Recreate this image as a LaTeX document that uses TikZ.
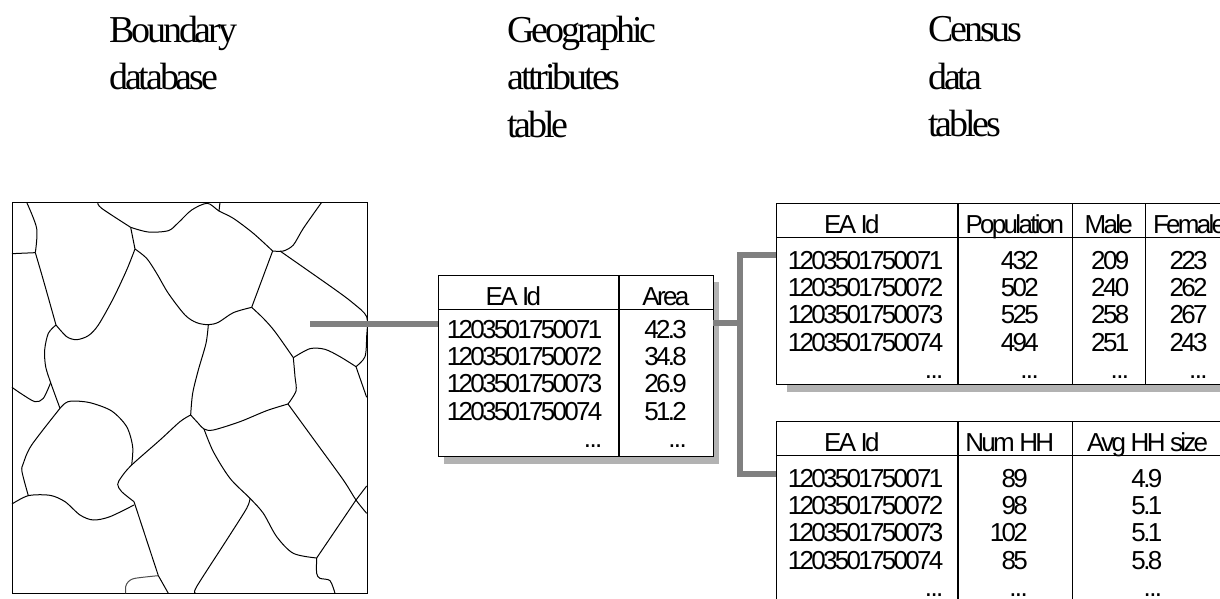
\documentclass[tikz,border=0pt]{standalone}
\usepackage{fontspec}
\usepackage{xcolor}
\setmainfont{Liberation Serif}
\newfontfamily\tablefont[LetterSpace=-10.4]{Liberation Sans}
\newfontfamily\titlefont[LetterSpace=-8.2]{Liberation Serif}
\usetikzlibrary{positioning,shadows}
\definecolor{linkgray}{HTML}{808080}
\definecolor{shadowgray}{HTML}{B2B2B2}
% first rule = room above the first row, then right padding, then the four rows
\newcommand{\tablerows}[6]{\rule{0pt}{#1pt}#3\kern#2pt\\#4\kern#2pt\\#5\kern#2pt\\#6\kern#2pt\\\rule[\dimexpr#1pt-38pt\relax]{0pt}{\dimexpr38pt-#1pt\relax}.\kern-1.6pt.\kern-1.6pt.\kern#2pt}

\begin{document}
\begin{tikzpicture}[x=1pt,y=-1pt,
box/.style={draw,rectangle,outer sep=0pt,inner ysep=0pt,inner xsep=0pt,font=\tablefont\fontsize{26}{27.3}\selectfont},
head/.style={box,minimum width=#1,text height=30.3pt,text depth=3pt},
body/.style={box,text width=#1,align=right},
title/.style={anchor=north west,inner sep=0pt,align=left,font=\titlefont\fontsize{38}{47.5}\selectfont},
mapline/.style={draw=black,line width=1pt},
link/.style={draw=linkgray,line width=6pt},
table/.style={anchor=north west,inner sep=0pt,fill=white,drop shadow={shadow xshift=#1,shadow yshift=-7pt,opacity=1,fill=shadowgray}}]
\useasboundingbox (0,0) rectangle (1220,599);

\node (boundtitle) [title] at (109,15.5) {Boundary\\database};
\node (geotitle) [title] at (507,15.5) {Geographic\\attributes\\table};
\node (censustitle) [title] at (928,16.5) {Census\\data\\tables};

% the map
\node (mapframe) [draw,line width=1pt,inner sep=0pt,outer sep=0pt,minimum width=355pt,minimum height=391pt,anchor=north west] at (12,202) {};
\begin{scope}[shift={(0,190)},x=.33333pt,y=-.33333pt]
\draw[mapline] plot[smooth] coordinates {(80,37) (110,115) (106,188)};
\draw[mapline] (36,191) -- (106,188);
\draw[mapline] plot[smooth] coordinates {(106,188) (130,270) (168,405)};
\draw[mapline] plot[smooth] coordinates {(168,405) (200,440) (230,449) (265,437) (295,405) (340,325) (380,240) (405,177)};
\draw[mapline] plot[smooth] coordinates {(293,37) (305,55) (392,112)};
\draw[mapline] (392,112) -- (405,177);
\draw[mapline] plot[smooth] coordinates {(392,112) (445,126) (505,122) (535,98) (575,60) (622,40) (657,63) (700,85) (760,130) (818,183)};
\draw[mapline] (660,37) -- (657,63);
\draw[mapline] plot[smooth] coordinates {(818,183) (850,183) (880,165) (910,115) (965,37)};
\draw[mapline] plot[smooth] coordinates {(840,183) (1000,295) (1060,340) (1100,380) (1100,440) (1095,500) (1068,530)};
\draw[mapline] (818,183) -- (755,352);
\draw[mapline] plot[smooth] coordinates {(405,177) (440,205) (470,250) (505,310) (555,375) (590,398) (625,404) (655,397) (700,368) (755,352)};
\draw[mapline] plot[smooth] coordinates {(755,352) (790,385) (825,425) (880,503)};
\draw[mapline] plot[smooth] coordinates {(880,503) (930,476) (975,478) (1020,500) (1068,530)};
\draw[mapline] (1068,530) -- (1100,622);
\draw[mapline] plot[smooth] coordinates {(880,503) (885,560) (888,603) (864,642)};
\draw[mapline] plot[smooth] coordinates {(864,642) (800,662) (720,695) (640,720) (612,717) (595,700) (572,675)};
\draw[mapline] plot[smooth] coordinates {(625,404) (618,460) (595,540) (578,610) (572,675)};
\draw[mapline] plot[smooth] coordinates {(572,675) (540,695) (480,750) (395,825) (365,860) (353,883) (365,905) (402,935)};
\draw[mapline] plot[smooth] coordinates {(395,825) (398,770) (380,710) (335,663) (270,638) (215,633) (195,640) (180,655)};
\draw[mapline] plot[smooth] coordinates {(168,405) (145,430) (134,480) (137,530) (152,578) (180,655)};
\draw[mapline] plot[smooth] coordinates {(36,592) (65,612) (105,635) (130,625) (152,578)};
\draw[mapline] plot[smooth] coordinates {(180,655) (95,765) (70,820) (66,845) (85,917)};
\draw[mapline] plot[smooth] coordinates {(36,942) (85,917) (150,916) (195,935) (240,975) (280,990) (330,980) (402,945)};
\draw[mapline] (402,935) -- (475,1157) -- (505,1210);
\draw[mapline,draw=black!70] plot[smooth] coordinates {(475,1157) (405,1165) (385,1175) (377,1190) (377,1210)};
\draw[mapline] plot[smooth] coordinates {(612,717) (640,785) (690,865) (750,925) (790,970) (830,1040) (880,1090) (950,1104)};
\draw[mapline] plot[smooth] coordinates {(750,925) (740,955) (680,1050) (590,1190) (587,1210)};
\draw[mapline] plot[smooth] coordinates {(864,642) (950,760) (1030,870) (1068,930) (1100,970)};
\draw[mapline] (950,1104) -- (1068,930) -- (1100,888);
\draw[mapline] plot[smooth] coordinates {(950,1104) (950,1150) (960,1165) (990,1172) (1005,1210)};
\end{scope}

\matrix (tabarea) [table=6pt] at (438,275) {
\node (areaid) [head=180pt] {EA Id\kern30pt};
&
\node (areaval) [head=94pt] {Area};
\\
\node [body=180pt] {\tablerows{29}{16}{1203501750071}{1203501750072}{1203501750073}{1203501750074}};
&
\node [body=94pt] {\tablerows{29}{26}{42.3}{34.8}{26.9}{51.2}};
\\
};

\matrix (tabpop) [table=11pt] at (776,203) {
\node (popid) [head=181pt] {EA Id\kern30pt};
&
\node (popnum) [head=114pt] {Population};
&
\node (popmale) [head=73pt] {Male};
&
\node (popfemale) [head=88pt] {Female};
\\
\node [body=181pt] {\tablerows{32}{14}{1203501750071}{1203501750072}{1203501750073}{1203501750074}};
&
\node [body=114pt] {\tablerows{32}{33}{432}{502}{525}{494}};
&
\node [body=73pt] {\tablerows{32}{16}{209}{240}{258}{251}};
&
\node [body=88pt] {\tablerows{32}{26}{223}{262}{267}{243}};
\\
};

\matrix (tabhh) [table=11pt] at (776,421) {
\node (hhid) [head=181pt] {EA Id\kern30pt};
&
\node (hhnum) [head=114pt] {Num HH\kern10pt};
&
\node (hhsize) [head=151pt] {Avg HH size};
\\
\node [body=181pt] {\tablerows{32}{14}{1203501750071}{1203501750072}{1203501750073}{1203501750074}};
&
\node [body=114pt] {\tablerows{32}{44}{89}{98}{102}{85}};
&
\node [body=151pt] {\tablerows{32}{61}{4.9}{5.1}{5.1}{5.8}};
\\
};

% the gray links
\coordinate (mapjoin) at (310,324);
\coordinate (areajoin) at (740,323);
\coordinate (popjoin) at (740,255);
\coordinate (hhjoin) at (740,474);
\draw[link] (mapjoin) -- (mapjoin -| tabarea.west);
\draw[link] (areajoin -| tabarea.east) -- (areajoin);
\draw[link] (popjoin -| tabpop.west) -- (popjoin) -- (hhjoin) -- (hhjoin -| tabhh.west);
\end{tikzpicture}
\end{document}
